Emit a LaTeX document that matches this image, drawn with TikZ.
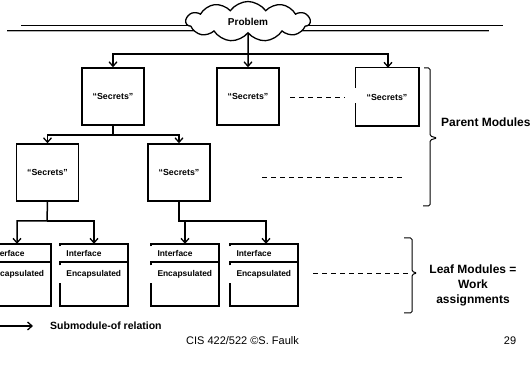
\documentclass[tikz,border=0pt]{standalone}
\usepackage{fontspec}
\setmainfont{Liberation Sans}
\usetikzlibrary{arrows.meta,shapes.symbols,calc}
\begin{document}
\begin{tikzpicture}[x=1pt,y=-1pt,
  boxline/.style={line width=1.5pt,line join=miter},
  conn/.style={line width=1.5pt,-{Straight Barb[length=4.5pt,width=8pt,line width=1.3pt]}},
  pbox/.style={draw,line width=1.5pt,minimum width=62pt,minimum height=57pt,inner sep=0pt,
    font=\fontsize{8.8}{10}\selectfont\bfseries},
  leafshape/.style={minimum width=68pt,minimum height=62pt,inner sep=0pt},
  lbl/.style={inner sep=0pt,font=\fontsize{8.4}{9}\selectfont\bfseries},
  dashline/.style={line width=0.9pt,dash pattern=on 5pt off 4pt},
  brace/.style={line width=1pt,rounded corners=1.5pt},
  big/.style={font=\fontsize{12}{15}\selectfont\bfseries,align=center,inner sep=0pt}]
\useasboundingbox (0,0) rectangle (531,366);
\clip (0,0) rectangle (531,366);

% title lines and cloud
\draw[line width=1.2pt] (21,25.7) -- (503,25.7);
\draw[line width=1.3pt] (7,30.2) -- (489,30.2);
\draw[line width=0.8pt,gray!60] (7,31.4) -- (489,31.4);
\node[cloud,cloud puffs=11,cloud puff arc=110,aspect=3.2,draw,fill=white,line width=1.3pt,
  minimum width=124pt,minimum height=40pt,inner sep=0pt,
  font=\fontsize{10}{12}\selectfont\bfseries] (prob) at (248,21.5) {Problem};

% parent modules
\node[pbox] (p1) at (113,96.5) {“Secrets”};
\node[pbox] (p2) at (248,96.5) {“Secrets”};
\node[pbox,draw=none] (p3) at (387,97) {“Secrets”};
\draw[boxline] ([yshift=-20pt]p3.north west) -- (p3.north west) -- (p3.north east)
  -- (p3.south east) -- (p3.south west) -- ([yshift=23pt]p3.south west);

\coordinate (j0) at (248,54);
\draw[conn] (prob.south) -- (p2.north);
\draw[conn] (j0) -| (p1.north);
\draw[conn] (j0) -| ([xshift=1pt]p3.north);

\coordinate (d1a) at (290,97);
\coordinate (d1b) at (345,97);
\draw[dashline] (d1a) -- (d1b);

% second level
\node[pbox] (q1) at (47.5,172.5) {“Secrets”};
\node[pbox] (q2) at (179,172.5) {“Secrets”};
\coordinate (j1) at (113,135);
\draw[conn] (p1.south) -- (j1) -| (q1.north);
\draw[conn] (j1) -| (q2.north);

\coordinate (d2a) at (262,177);
\coordinate (d2b) at (404,177);
\draw[dashline] (d2a) -- (d2b);

% leaf modules
\newcommand\leafbox[2]{%
  \node[leafshape] (#1) at ({#2+34},275) {};
  \draw[boxline] ([yshift=-2.5pt]#1.north west) -- (#1.north west) -- (#1.north east)
    -- (#1.south east) -- (#1.south west) -- ([yshift=23pt]#1.south west);
  \draw[boxline] ([yshift=-21.5pt]#1.north west) -- ([yshift=-18pt]#1.north west)
    -- ([yshift=-18pt]#1.north east);
  \node[lbl,anchor=west] at ([xshift=6.5pt,yshift=-9.5pt]#1.north west) {Interface};
  \node[lbl,anchor=west] at ([xshift=6.5pt,yshift=-31pt]#1.north west) {Encapsulated};
}
\leafbox{l1}{-17}
\leafbox{l2}{60}
\leafbox{l3}{151}
\leafbox{l4}{230}

\coordinate (j2) at (47,221);
\coordinate (j3) at (179,221);
\draw[conn] (q1.south) -- (j2) -| (l1.north);
\draw[conn] (j2) -| (l2.north);
\draw[conn] (q2.south) -- (j3) -| (l3.north);
\draw[conn] (j3) -| ([xshift=2pt]l4.north);

\coordinate (d3a) at (313,273);
\coordinate (d3b) at (410,273);
\draw[dashline] (d3a) -- (d3b);

% braces and labels
\draw[brace] (424,68) -- (430,68) -- (430,136) -- (437,138) -- (430,140) -- (430,206) -- (423,206);
\node[big,anchor=west] (pm) at (441,122) {Parent Modules};

\draw[brace] (404,238) -- (412,238) -- (412,271.5) -- (417,273) -- (412,274.5) -- (412,313) -- (404,313);
\node[big] (lm) at (473,285.5) {Leaf Modules =\\Work\\assignments};

% legend and footer
\coordinate (lga) at (0,326);
\coordinate (lgb) at (33,326);
\draw[conn,line width=1.2pt] (lga) -- (lgb);
\node[anchor=west,inner sep=0pt,font=\fontsize{10.5}{12}\selectfont\bfseries] (leg) at (50,326) {Submodule-of relation};
\node[inner sep=0pt,font=\fontsize{11}{13}\selectfont] (foot) at (242.5,341) {CIS 422/522 ©S. Faulk};
\node[inner sep=0pt,font=\fontsize{11}{13}\selectfont] (pg) at (510,341) {29};
\end{tikzpicture}
\end{document}
